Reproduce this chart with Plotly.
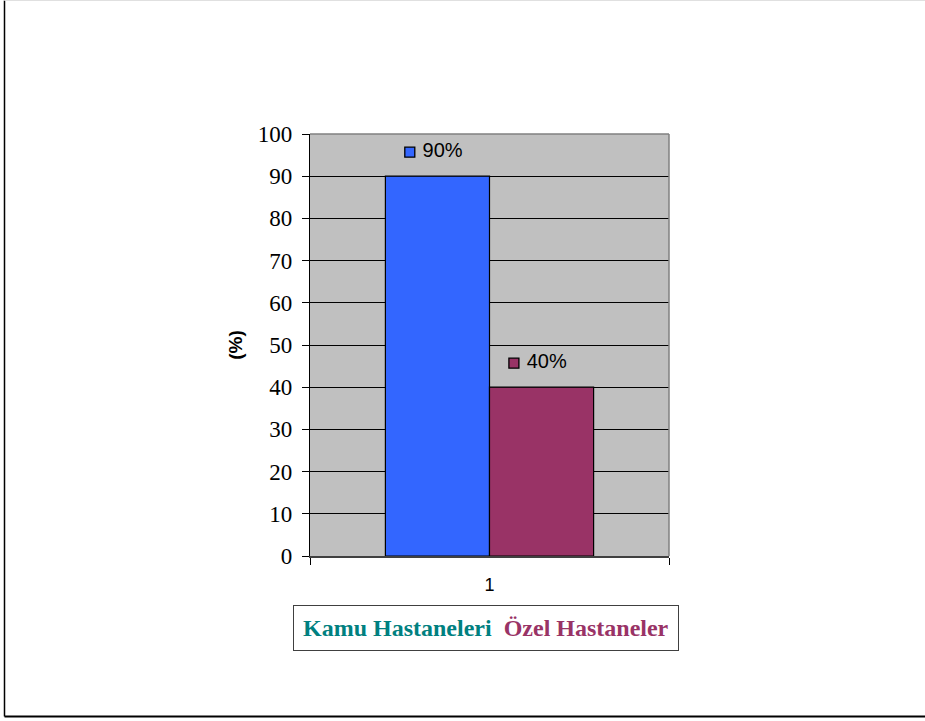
import plotly.graph_objects as go

categories = [1]
series_names = ["Kamu Hastaneleri", "Özel Hastaneler"]
series_values = [[90], [40]]
series_colors = ["#3366FF", "#993366"]
legend_text_colors = ["#008080", "#993366"]
label_texts = ["90%", "40%"]
y_ticks = list(range(0, 101, 10))

fig = go.Figure()
for name, vals, col in zip(series_names, series_values, series_colors):
    fig.add_trace(go.Bar(
        x=categories, y=vals, name=name,
        marker=dict(color=col, line=dict(color="black", width=1.2)),
        showlegend=False, hoverinfo="skip"))

bargap = 0.42
bar_w = (1 - bargap) / len(series_names)
for i, (vals, col, txt) in enumerate(zip(series_values, series_colors, label_texts)):
    center = categories[0] - (1 - bargap) / 2 + bar_w * (i + 0.5)
    fig.add_trace(go.Scatter(
        x=[center - 0.077], y=[vals[0] + 5.7], mode="markers+text",
        marker=dict(symbol="square", size=10, color=col, line=dict(color="black", width=1.3)),
        text=[" " + txt], textposition="middle right",
        textfont=dict(family="Liberation Sans, Arial", size=20, color="black"),
        showlegend=False, hoverinfo="skip", cliponaxis=False))

fig.update_layout(
    width=925, height=721,
    margin=dict(l=310, r=256, t=134, b=165),
    paper_bgcolor="white", plot_bgcolor="#C0C0C0",
    barmode="group", bargap=bargap, bargroupgap=0,
    xaxis=dict(range=[0.5, 1.5], tickvals=categories, ticktext=[str(c) for c in categories],
               ticks="", showgrid=False, zeroline=False,
               showline=True, linecolor="#404040", linewidth=1.5, mirror=False,
               tickfont=dict(family="Liberation Sans, Arial", size=18, color="black"),
               ticklabelstandoff=12,
               minor=dict(tickvals=[0.5, 1.5], ticks="outside", ticklen=7, tickcolor="black", tickwidth=1)),
    yaxis=dict(range=[0, 100], tickvals=y_ticks, ticks="outside", ticklen=7, tickcolor="black",
               showgrid=True, gridcolor="black", gridwidth=1, zeroline=False,
               showline=True, linecolor="black", linewidth=1.2,
               tickfont=dict(family="Liberation Serif, Times New Roman", size=23, color="black"),
               ticklabelstandoff=5,
               title=dict(text="<b>(%)</b>", font=dict(family="Liberation Sans, Arial", size=19, color="black"),
                          standoff=10)),
)

# right/top border of plot area
fig.add_shape(type="line", xref="paper", yref="paper", x0=1, x1=1, y0=0, y1=1,
              line=dict(color="#808080", width=1.5))
fig.add_shape(type="line", xref="paper", yref="paper", x0=0, x1=1, y0=1, y1=1,
              line=dict(color="#808080", width=1.5))

# legend box
legend_html = "<b>" + "  ".join(
    f"<span style='color:{c}'>{n}</span>" for n, c in zip(series_names, legend_text_colors)) + "</b>"
fig.add_annotation(xref="paper", yref="paper", x=(486 - 310) / 359, y=(556 - 628) / 422,
                   xanchor="center", yanchor="middle", showarrow=False,
                   text=legend_html, bordercolor="#404040", borderwidth=1, borderpad=9,
                   bgcolor="white",
                   font=dict(family="Liberation Serif, Times New Roman", size=24))

# outer chart frame
fig.add_shape(type="line", xref="paper", yref="paper",
              x0=(4.5 - 310) / 359, x1=(4.5 - 310) / 359, y0=(556 - 716.5) / 422, y1=(556 - 0.5) / 422,
              line=dict(color="black", width=1.5))
fig.add_shape(type="line", xref="paper", yref="paper",
              x0=(4.5 - 310) / 359, x1=(925 - 310) / 359, y0=(556 - 716.5) / 422, y1=(556 - 716.5) / 422,
              line=dict(color="black", width=2))
fig.add_shape(type="line", xref="paper", yref="paper",
              x0=(4.5 - 310) / 359, x1=(925 - 310) / 359, y0=(556 - 0.5) / 422, y1=(556 - 0.5) / 422,
              line=dict(color="#E0E0E0", width=1))

fig.write_html("out.html")
